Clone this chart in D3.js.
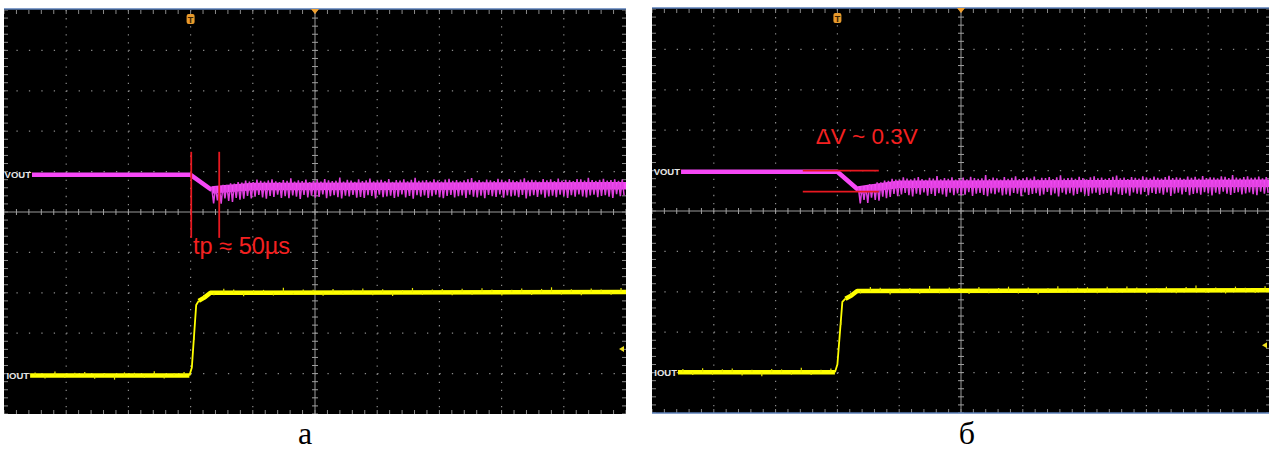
<!DOCTYPE html>
<html>
<head>
<meta charset="utf-8">
<script src="https://cdn.jsdelivr.net/npm/d3@7"></script>
<style>
  body { margin: 0; background: #fff; }
</style>
</head>
<body>
<script>

// scope screen is 10 x 10 divisions, values below are in divisions
var panelLabels = ["а", "б"];
var annoText = ["tp ≈ 50µs", "ΔV ~ 0.3V"];

// VOUT mean trace (time div, level div)
var voutA = [[-4.55, 0.92], [-2.0, 0.92], [-1.66, 0.545], [-1.5, 0.57], [-1.0, 0.63], [5, 0.65]];
var voutB = [[-4.53, 0.97], [-2.0, 0.97], [-1.66, 0.52], [-1.5, 0.56], [-1.0, 0.66], [5, 0.69]];

// IOUT trace: low level, rise, high level
var ioutA = [[-4.58, -4.05], [-2.02, -4.05], [-1.98, -3.85], [-1.91, -2.3], [-1.87, -2.2], [-1.78, -2.12], [-1.68, -2.0], [5, -1.98]];
var ioutB = [[-4.58, -3.99], [-2.04, -3.99], [-2.0, -3.8], [-1.92, -2.25], [-1.87, -2.17], [-1.78, -2.1], [-1.68, -1.98], [5, -1.96]];

// ripple on VOUT after the load step (spike depth below / height above mean)
var rippleDown = [.34,.27,.36,.24,.31,.34,.25,.3,.28,.22,.29,.25,.21,.27,.3,.23,.26,.2,.28,.24,.29,.22,.25,.31,.21,.27,.23,.28,.26,.2,.29,.24,.22,.27,.3,.23,.25,.21,.28,.26,.29,.22,.24,.3,.21,.27,.25,.23,.29,.26,.2,.28,.24,.31,.22,.26,.23,.29,.25,.21,.27,.3,.24,.22,.28,.25,.23,.29,.21,.26,.28,.24,.3,.22,.25,.27,.21,.29,.23,.26,.24,.28,.22,.31,.25,.23,.27,.21,.29,.26,.24,.28,.22,.25,.3,.23,.27,.21,.26,.29,.24,.22,.28,.25,.23,.27,.3,.21,.26,.24];
var rippleUp = [.05,.07,.06,.1,.09,.12,.11,.14,.12,.16,.13,.11,.17,.14,.12,.15,.18,.13,.11,.16,.14,.2,.12,.15,.13,.17,.11,.14,.16,.12,.18,.15,.13,.14,.22,.12,.16,.14,.11,.17,.13,.15,.19,.12,.14,.16,.13,.18,.11,.15,.14,.17,.12,.16,.21,.13,.14,.15,.12,.17,.14,.11,.16,.18,.13,.15,.12,.14,.17,.2,.13,.15,.11,.16,.14,.12,.18,.15,.13,.17,.14,.12,.16,.19,.13,.15,.14,.11,.17,.14,.16,.12,.18,.13,.15,.14,.12,.17,.16,.13,.2,.14,.12,.15,.17,.13,.14,.16,.12,.15];

// small fuzz on IOUT (+ up, - down)
var iFuzz = [.08,-.07,.1,-.06,.07,.09,-.08,.06,-.1,.08,.07,-.06,.11,-.07,.06,.09,-.08,.07,-.06,.1,.08,-.09,.06,.07,-.07,.12,-.06,.08,.07,-.08,.09,-.06,.07,.1,-.07,.08,-.09,.06,.11,-.06,.07,.08,-.07,.09,-.06,.1,.07,-.08,.06,.09,-.07,.08,.12,-.06,.07,-.08,.09,.06,-.07,.1];

// red marker lines
var tpLines = [[-1.99, 1.49, -0.64], [-1.54, 1.49, -0.64]];     // t, v top, v bottom
var dvLines = [[1.0, -2.56, -1.33], [0.48, -2.56, -1.33]];      // v, t left, t right
var annoPos = [[-1.96, -1.04], [-2.35, 1.66]];
var vLabel = ["VOUT", "VOUT"];
var iLabel = ["IOUT", "IOUT"];
var markerI = [-3.39, -3.32];

var w = 1269, h = 451;
var boxes = [
  { x0: 4, x1: 626, y0: 10, y1: 414 },
  { x0: 652, x1: 1270, y0: 9, y1: 413 }
];

var svg = d3.select("body")
            .append("svg")
            .attr("width", w)
            .attr("height", h);

var panels = [
  { vout: voutA, iout: ioutA, lines: tpLines, vertical: true },
  { vout: voutB, iout: ioutB, lines: dvLines, vertical: false }
];

panels.forEach(function(p, n) {
  var b = boxes[n];
  var x = d3.scaleLinear().domain([-5, 5]).range([b.x0, b.x1]);
  var y = d3.scaleLinear().domain([-5, 5]).range([b.y1, b.y0]);

  var g = svg.append("g");
  var clipId = "clip" + n;
  g.append("clipPath").attr("id", clipId)
    .append("rect")
    .attr("x", b.x0).attr("y", b.y0)
    .attr("width", Math.min(b.x1, w) - b.x0).attr("height", b.y1 - b.y0);

  g.append("rect")
    .attr("x", b.x0).attr("y", b.y0 - 1)
    .attr("width", Math.min(b.x1, w) - b.x0).attr("height", b.y1 - b.y0 + 1)
    .attr("fill", "#000");

  var inner = g.append("g").attr("clip-path", "url(#" + clipId + ")");

  var majors = d3.range(-4, 5);
  var minors = d3.range(-25, 26).map(function(d) { return d / 5; });
  var dx = (x(1) - x(0)) / 5;
  var dy = (y(0) - y(1)) / 5;

  // dotted grid
  inner.selectAll(".vg")
    .data(majors.filter(function(d) { return d != 0; }))
    .enter().append("line")
    .attr("x1", function(d) { return x(d); })
    .attr("x2", function(d) { return x(d); })
    .attr("y1", y(5)).attr("y2", y(-5))
    .attr("stroke", "#8a8a8a")
    .attr("stroke-width", 1.2)
    .attr("stroke-dasharray", "1.3," + (dy - 1.3));

  inner.selectAll(".hg")
    .data(majors.filter(function(d) { return d != 0; }))
    .enter().append("line")
    .attr("y1", function(d) { return y(d); })
    .attr("y2", function(d) { return y(d); })
    .attr("x1", x(-5)).attr("x2", x(5))
    .attr("stroke", "#8a8a8a")
    .attr("stroke-width", 1.2)
    .attr("stroke-dasharray", "1.3," + (dx - 1.3));

  // centre cross with minor ticks
  inner.append("line")
    .attr("x1", x(0)).attr("x2", x(0)).attr("y1", y(5)).attr("y2", y(-5))
    .attr("stroke", "#9a9a9a").attr("stroke-width", 1);
  inner.append("line")
    .attr("y1", y(0)).attr("y2", y(0)).attr("x1", x(-5)).attr("x2", x(5))
    .attr("stroke", "#9a9a9a").attr("stroke-width", 1);

  inner.selectAll(".ty")
    .data(minors)
    .enter().append("line")
    .attr("x1", x(0) - 3).attr("x2", x(0) + 3)
    .attr("y1", function(d) { return y(d); })
    .attr("y2", function(d) { return y(d); })
    .attr("stroke", "#a0a0a0");
  inner.selectAll(".tx")
    .data(minors)
    .enter().append("line")
    .attr("y1", y(0) - 3).attr("y2", y(0) + 3)
    .attr("x1", function(d) { return x(d); })
    .attr("x2", function(d) { return x(d); })
    .attr("stroke", "#a0a0a0");

  // border ticks
  [y(5), y(-5)].forEach(function(yy, k) {
    inner.selectAll(".bt" + k)
      .data(minors)
      .enter().append("line")
      .attr("x1", function(d) { return x(d); })
      .attr("x2", function(d) { return x(d); })
      .attr("y1", yy).attr("y2", k == 0 ? yy + 4 : yy - 4)
      .attr("stroke", "#8a8a8a");
  });
  [x(-5), x(5)].forEach(function(xx, k) {
    inner.selectAll(".bl" + k)
      .data(minors)
      .enter().append("line")
      .attr("y1", function(d) { return y(d); })
      .attr("y2", function(d) { return y(d); })
      .attr("x1", xx).attr("x2", k == 0 ? xx + 4 : xx - 4)
      .attr("stroke", "#8a8a8a");
  });

  var line = d3.line()
    .x(function(d) { return x(d[0]); })
    .y(function(d) { return y(d[1]); });

  // IOUT trace: thick flat levels, thin edge
  var iMean = d3.scaleLinear()
    .domain(p.iout.map(function(d) { return d[0]; }))
    .range(p.iout.map(function(d) { return d[1]; }));
  inner.append("path")
    .attr("d", line(p.iout.slice(0, 2)))
    .attr("fill", "none")
    .attr("stroke", "#ffff00")
    .attr("stroke-width", 4.5);
  inner.append("path")
    .attr("d", line(p.iout.slice(1, 5)))
    .attr("fill", "none")
    .attr("stroke", "#ffff00")
    .attr("stroke-width", 1.8)
    .attr("stroke-linejoin", "round");
  inner.append("path")
    .attr("d", line(p.iout.slice(4)))
    .attr("fill", "none")
    .attr("stroke", "#ffff00")
    .attr("stroke-width", 4.5)
    .attr("stroke-linejoin", "round");
  var iStep = (5 - p.iout[0][0]) / iFuzz.length;
  inner.selectAll(".if")
    .data(iFuzz)
    .enter().append("line")
    .attr("x1", function(d, i) { return x(p.iout[0][0] + (i + 0.5) * iStep); })
    .attr("x2", function(d, i) { return x(p.iout[0][0] + (i + 0.5) * iStep); })
    .attr("y1", function(d, i) { return y(iMean(p.iout[0][0] + (i + 0.5) * iStep)); })
    .attr("y2", function(d, i) { return y(iMean(p.iout[0][0] + (i + 0.5) * iStep) + d); })
    .attr("stroke", "#e8e800")
    .attr("stroke-width", 1.2);

  // VOUT trace
  var vMean = d3.scaleLinear()
    .domain(p.vout.map(function(d) { return d[0]; }))
    .range(p.vout.map(function(d) { return d[1]; }));
  inner.append("path")
    .attr("d", line(p.vout.slice(0, 3)))
    .attr("fill", "none")
    .attr("stroke", "#f648f6")
    .attr("stroke-width", 4.5)
    .attr("stroke-linejoin", "round");
  inner.append("path")
    .attr("d", line(p.vout.slice(2)))
    .attr("fill", "none")
    .attr("stroke", "#f448f4")
    .attr("stroke-width", 7.5)
    .attr("stroke-linejoin", "round");

  var t0 = p.vout[2][0];
  var rStep = (5 - t0) / rippleDown.length;
  var zig = [];
  rippleDown.forEach(function(d, i) {
    var t = t0 + i * rStep;
    zig.push([t, vMean(t) + rippleUp[i % rippleUp.length]]);
    zig.push([t + rStep * 0.5, vMean(t + rStep * 0.5) - d]);
  });
  inner.append("path")
    .attr("d", line(zig))
    .attr("fill", "none")
    .attr("stroke", "#e040e0")
    .attr("stroke-width", 1.5);

  // trace labels
  g.append("text")
    .attr("x", x(p.vout[0][0]) - 1)
    .attr("y", y(p.vout[0][1]) + 3.5)
    .attr("text-anchor", "end")
    .style("font-family", "Liberation Sans, Arial")
    .style("font-size", "9.5px")
    .style("font-weight", "bold")
    .attr("fill", "#e6e6e6")
    .text(vLabel[n]);
  g.append("text")
    .attr("x", x(p.iout[0][0]) - 1)
    .attr("y", y(p.iout[0][1]) + 3.5)
    .attr("text-anchor", "end")
    .style("font-family", "Liberation Sans, Arial")
    .style("font-size", "9.5px")
    .style("font-weight", "bold")
    .attr("fill", "#e6e6e6")
    .text(iLabel[n]);

  // red annotation lines
  p.lines.forEach(function(l) {
    var ln = g.append("line")
      .attr("stroke", "#e81820")
      .attr("stroke-width", 1.8);
    if (p.vertical) {
      ln.attr("x1", x(l[0])).attr("x2", x(l[0])).attr("y1", y(l[1])).attr("y2", y(l[2]));
    } else {
      ln.attr("y1", y(l[0])).attr("y2", y(l[0])).attr("x1", x(l[1])).attr("x2", x(l[2]));
    }
  });

  g.append("text")
    .attr("x", x(annoPos[n][0]))
    .attr("y", y(annoPos[n][1]))
    .style("font-family", "Liberation Sans, Arial")
    .style("font-size", n == 0 ? "23.5px" : "22.5px")
    .attr("fill", "#f42020")
    .text(annoText[n]);

  // top frame line and markers
  g.append("line")
    .attr("x1", b.x0).attr("x2", Math.min(b.x1, w))
    .attr("y1", b.y0 - 1).attr("y2", b.y0 - 1)
    .attr("stroke", "#5b7fb8").attr("stroke-width", 1.5);
  if (n == 1) {
    g.append("line")
      .attr("x1", b.x0).attr("x2", w)
      .attr("y1", b.y1).attr("y2", b.y1)
      .attr("stroke", "#5b7fb8").attr("stroke-width", 1.5);
  }

  // trigger marker
  g.append("rect")
    .attr("x", x(-2) - 4).attr("y", b.y0 + 4)
    .attr("width", 8).attr("height", 10).attr("rx", 2)
    .attr("fill", "#e89a2c");
  g.append("text")
    .attr("x", x(-2)).attr("y", b.y0 + 12.5)
    .attr("text-anchor", "middle")
    .style("font-family", "Liberation Sans, Arial")
    .style("font-size", "9px")
    .style("font-weight", "bold")
    .attr("fill", "#3a2200")
    .text("T");
  g.append("path")
    .attr("d", "M" + (x(0) - 4) + "," + (b.y0 - 1) + "L" + (x(0) + 4) + "," + (b.y0 - 1) + "L" + x(0) + "," + (b.y0 + 4) + "Z")
    .attr("fill", "#f0a030");

  // channel offset marker on right edge
  var mx = Math.min(b.x1, w) - 2;
  g.append("path")
    .attr("d", "M" + mx + "," + (y(markerI[n]) - 3) + "L" + (mx - 5) + "," + y(markerI[n]) + "L" + mx + "," + (y(markerI[n]) + 3) + "Z")
    .attr("fill", "#f0e020");

  // panel caption
  svg.append("text")
    .attr("x", n == 0 ? 305 : 967)
    .attr("y", 444)
    .attr("text-anchor", "middle")
    .style("font-family", "Liberation Serif, Times New Roman, serif")
    .style("font-size", "32px")
    .attr("fill", "#000")
    .text(panelLabels[n]);
});

</script>
</body>
</html>
